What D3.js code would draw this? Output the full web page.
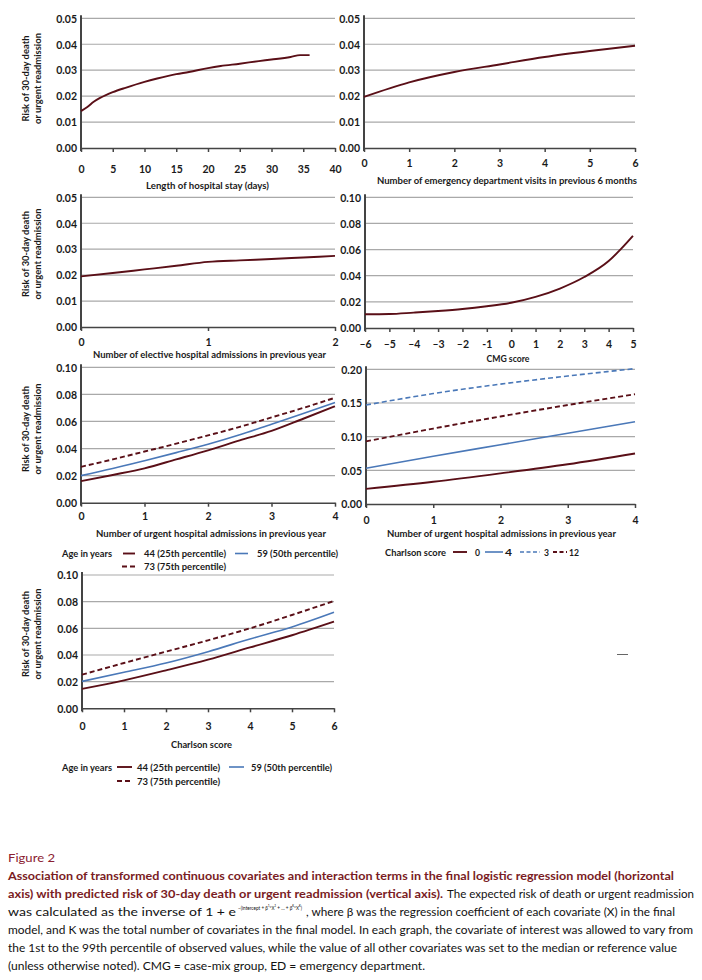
<!DOCTYPE html>
<html><head><meta charset="utf-8">
<script src="https://cdn.jsdelivr.net/npm/d3@7"></script>
<style>
body{margin:0;background:#fff}
svg{display:block}
text{font-family:Lato,"Open Sans",sans-serif}
</style>
</head><body>
<svg id="c" width="702" height="980"></svg>
<script>
// ---------- DATA ----------
const losDays = [0,1,2,3,4,5,7,10,12,15,17,20,22,25,28,30,33,34.5,36];
const losRisk = [0.0142,0.0158,0.0178,0.0193,0.0205,0.0215,0.0232,0.0255,0.0268,0.0285,0.0293,0.0308,0.0316,0.0325,0.0335,0.0341,0.0351,0.0358,0.0358];
const losTicks = [0,5,10,15,20,25,30,35,40];

const edVisits = [0,1,2,3,4,5,6];
const edRisk = [0.0197,0.0253,0.0293,0.0322,0.0351,0.0374,0.0394];
const edTicks = [0,1,2,3,4,5,6];

const electiveAdm = [0,0.25,0.5,0.75,1,1.25,1.5,1.75,2];
const electiveRisk = [0.0195,0.0208,0.0222,0.0236,0.0251,0.0257,0.0262,0.0268,0.0274];
const electiveTicks = [0,1,2];

const cmgScore = [-6,-5,-4,-3,-2,-1,0,1,2,3,4,4.5,5];
const cmgRisk = [0.0105,0.0107,0.0118,0.0130,0.0145,0.0166,0.0193,0.0238,0.0302,0.0390,0.0512,0.0603,0.0705];
const cmgTicks = [-6,-5,-4,-3,-2,-1,0,1,2,3,4,5];
const cmgTickLabels = ["\u20136","\u20135","\u20134","\u20133","\u20132","-1","0","1","2","3","4","5"];

const urgentAdm = [0,0.5,1,1.5,2,2.5,3,3.5,4];
const urgentAge44 = [0.0159,0.0205,0.0254,0.0320,0.0387,0.0460,0.0530,0.0620,0.0712];
const urgentAge59 = [0.0200,0.0252,0.0310,0.0370,0.0432,0.0502,0.0580,0.0658,0.0740];
const urgentAge73 = [0.0265,0.0320,0.0378,0.0436,0.0497,0.0560,0.0630,0.0700,0.0775];

const urgentAdmC = [0,1,2,3,4];
const urgentCharlson0 = [0.0225,0.0330,0.0455,0.0590,0.0750];
const urgentCharlson4 = [0.0530,0.0710,0.0880,0.1050,0.1220];
const urgentCharlson3 = [0.1470,0.1640,0.1780,0.1900,0.2010];
const urgentCharlson12 = [0.0930,0.1120,0.1300,0.1470,0.1630];
const urgentTicks = [0,1,2,3,4];

const charlsonScore = [0,1,2,3,4,5,6];
const charlsonAge44 = [0.0146,0.0210,0.0285,0.0365,0.0457,0.0548,0.0650];
const charlsonAge59 = [0.0202,0.0270,0.0340,0.0425,0.0520,0.0610,0.0720];
const charlsonAge73 = [0.0252,0.0340,0.0425,0.0510,0.0600,0.0700,0.0805];
const charlsonTicks = [0,1,2,3,4,5,6];

const yTicks05 = [0,0.01,0.02,0.03,0.04,0.05];
const yTicks10 = [0,0.02,0.04,0.06,0.08,0.10];
const yTicks20 = [0,0.05,0.10,0.15,0.20];

const yTitle = ["Risk of 30-day death","or urgent readmission"];
const ageLegend = ["Age in years","44 (25th percentile)","59 (50th percentile)","73 (75th percentile)"];
const charlsonLegend = ["Charlson score","0","4","3","12"];

// ---------- STYLE ----------
const RED = "#5a0f17", BLUE = "#4a78b8", GRID = "#a9a9a9", AXIS = "#444", TXT = "#1a1a1a";
const svg = d3.select("#c");

function panel(o){
  const x = d3.scaleLinear().domain(o.xDomain).range([o.left,o.right]);
  const y = d3.scaleLinear().domain(o.yDomain).range([o.bottom,o.top]);
  const g = svg.append("g");
  g.selectAll(".grid").data(o.yTicks.filter(d=>d>0)).join("line")
    .attr("x1",o.left).attr("x2",o.right).attr("y1",d=>y(d)).attr("y2",d=>y(d))
    .attr("stroke",GRID).attr("stroke-width",1.2);
  const xa = g.append("g").attr("transform",`translate(0,${o.bottom})`)
    .call(d3.axisBottom(x).tickValues(o.xTicks).tickSize(4).tickSizeOuter(0)
      .tickFormat((d,i)=>o.xLabels?o.xLabels[i]:d));
  xa.select(".domain").attr("stroke",AXIS).attr("stroke-width",1.6);
  xa.selectAll(".tick line").attr("stroke",AXIS).attr("stroke-width",1.5);
  xa.selectAll(".tick text").attr("y",o.xLabelDy).attr("dy",0).attr("fill",TXT)
    .style("font-size","10.5px").style("font-weight",700).style("font-family","Lato");
  const ya = g.append("g").attr("transform",`translate(${o.left},0)`)
    .call(d3.axisLeft(y).tickValues(o.yTicks).tickSize(0).tickSizeOuter(0).tickFormat(d3.format(".2f")));
  ya.select(".domain").remove();
  ya.selectAll(".tick text").attr("x",-4).attr("dy","0.36em").attr("fill",TXT)
    .style("font-size","10.5px").style("font-weight",700).style("font-family","Lato");
  g.append("line").attr("x1",o.left).attr("x2",o.left).attr("y1",o.top-3).attr("y2",o.bottom+3)
    .attr("stroke",AXIS).attr("stroke-width",2);
  g.append("text").attr("x",o.titleX).attr("y",o.titleY).attr("text-anchor","middle")
    .attr("textLength",o.titleW).attr("lengthAdjust","spacingAndGlyphs")
    .style("font-size","10px").style("font-weight",700).attr("fill",TXT).text(o.title);
  if(o.yTitleC){
    yTitle.forEach((t,i)=>{
      g.append("text").attr("transform",`translate(${i?37.5:25.5},${o.yTitleC}) rotate(-90)`)
        .attr("text-anchor","middle").attr("dy","0.35em")
        .attr("textLength",i?91:86).attr("lengthAdjust","spacingAndGlyphs")
        .style("font-size","10px").style("font-weight",700).attr("fill",TXT).text(t);
    });
  }
  const line = d3.line().x(d=>x(d[0])).y(d=>y(d[1])).curve(d3.curveMonotoneX);
  o.series.forEach(s=>{
    g.append("path").attr("d",line(s.xs.map((v,i)=>[v,s.ys[i]])))
      .attr("fill","none").attr("stroke",s.color).attr("stroke-width",s.w||1.9)
      .attr("stroke-dasharray",s.dash||null);
  });
  return g;
}

function legItem(x1,x2,y,color,dash,w){
  svg.append("line").attr("x1",x1).attr("x2",x2).attr("y1",y).attr("y2",y)
    .attr("stroke",color).attr("stroke-width",w).attr("stroke-dasharray",dash||null);
}
function legText(x,y,w,t){
  svg.append("text").attr("x",x).attr("y",y).attr("textLength",w).attr("lengthAdjust","spacingAndGlyphs")
    .style("font-size","10px").style("font-weight",700).attr("fill",TXT).text(t);
}

panel({left:81,right:335,top:18.3,bottom:148,xDomain:[0,40],yDomain:[0,0.05],xTicks:losTicks,yTicks:yTicks05,
  xLabelDy:25,title:"Length of hospital stay (days)",titleX:207.5,titleY:188.5,titleW:123,yTitleC:78.5,
  series:[{xs:losDays,ys:losRisk,color:RED}]});
panel({left:364,right:635,top:18.3,bottom:148,xDomain:[0,6],yDomain:[0,0.05],xTicks:edTicks,yTicks:yTicks05,
  xLabelDy:18.5,title:"Number of emergency department visits in previous 6 months",titleX:507,titleY:184,titleW:260,
  series:[{xs:edVisits,ys:edRisk,color:RED}]});
panel({left:81,right:335,top:197.3,bottom:327,xDomain:[0,2],yDomain:[0,0.05],xTicks:electiveTicks,yTicks:yTicks05,
  xLabelDy:18.5,title:"Number of elective hospital admissions in previous year",titleX:209.5,titleY:357.5,titleW:233,yTitleC:254,
  series:[{xs:electiveAdm,ys:electiveRisk,color:RED}]});
panel({left:365,right:633,top:197.3,bottom:328,xDomain:[-6,5],yDomain:[0,0.10],xTicks:cmgTicks,xLabels:cmgTickLabels,yTicks:yTicks10,
  xLabelDy:19.5,title:"CMG score",titleX:508,titleY:362,titleW:43,
  series:[{xs:cmgScore,ys:cmgRisk,color:RED}]});
panel({left:81,right:335,top:367.3,bottom:502.7,xDomain:[0,4],yDomain:[0,0.10],xTicks:urgentTicks,yTicks:yTicks10,
  xLabelDy:17.5,title:"Number of urgent hospital admissions in previous year",titleX:211,titleY:536.5,titleW:230,yTitleC:429,
  series:[{xs:urgentAdm,ys:urgentAge44,color:RED},
          {xs:urgentAdm,ys:urgentAge59,color:BLUE,w:1.6},
          {xs:urgentAdm,ys:urgentAge73,color:RED,dash:"5,3"}]});
panel({left:366,right:635,top:369.3,bottom:504,xDomain:[0,4],yDomain:[0,0.20],xTicks:urgentTicks,yTicks:yTicks20,
  xLabelDy:19.5,title:"Number of urgent hospital admissions in previous year",titleX:501.5,titleY:536.5,titleW:229,
  series:[{xs:urgentAdmC,ys:urgentCharlson0,color:RED},
          {xs:urgentAdmC,ys:urgentCharlson4,color:BLUE,w:1.6},
          {xs:urgentAdmC,ys:urgentCharlson3,color:BLUE,w:1.6,dash:"5,3"},
          {xs:urgentAdmC,ys:urgentCharlson12,color:RED,dash:"5,3"}]});
panel({left:82,right:334,top:575,bottom:708.3,xDomain:[0,6],yDomain:[0,0.10],xTicks:charlsonTicks,yTicks:yTicks10,
  xLabelDy:21.5,title:"Charlson score",titleX:201.5,titleY:748,titleW:61,yTitleC:634,
  series:[{xs:charlsonScore,ys:charlsonAge44,color:RED},
          {xs:charlsonScore,ys:charlsonAge59,color:BLUE,w:1.6},
          {xs:charlsonScore,ys:charlsonAge73,color:RED,dash:"5,3"}]});

// Legends
legText(62,557,50,ageLegend[0]);
legItem(123,135,553.5,RED,null,1.9); legText(144,557,82,ageLegend[1]);
legItem(235,248,553.5,BLUE,null,1.6); legText(257,557,81,ageLegend[2]);
legItem(122,135,566.5,RED,"5,3",1.9); legText(144,570,82,ageLegend[3]);
legText(62,770.5,50,ageLegend[0]);
legItem(117,132,767,RED,null,1.9); legText(137,770.5,83,ageLegend[1]);
legItem(229,244,767,BLUE,null,1.6); legText(251,770.5,81,ageLegend[2]);
legItem(117,131,781,RED,"5,3",1.9); legText(137,784.5,83,ageLegend[3]);
legText(385,555.5,61,charlsonLegend[0]);
legItem(453,467,552,RED,null,1.9); legText(475,555.5,5,charlsonLegend[1]);
legItem(485,503,552,BLUE,null,1.6); legText(505,555.5,7,charlsonLegend[2]);
legItem(520,540,552,BLUE,"4,2.5",1.6); legText(544,555.5,5,charlsonLegend[3]);
legItem(553,567,552,RED,"4,2.5",1.9); legText(569,555.5,10,charlsonLegend[4]);

svg.append("line").attr("x1",617).attr("x2",628).attr("y1",654.5).attr("y2",654.5).attr("stroke","#666").attr("stroke-width",1);

// ---------- CAPTION ----------
const CAP_RED = "#7a1c24";
function cap(x,y,w,t,opt={}){
  return svg.append("text").attr("x",x).attr("y",y).attr("textLength",w).attr("lengthAdjust","spacingAndGlyphs")
    .style("font-size",(opt.size||11.6)+"px").style("font-weight",opt.bold?700:400)
    .attr("fill",opt.color||"#111").text(t);
}
cap(8,861.5,47,"Figure 2",{color:"#8b2030",size:12});
cap(8,879.5,666,"Association of transformed continuous covariates and interaction terms in the final logistic regression model (horizontal",{bold:true,color:CAP_RED});
cap(8,897.5,435,"axis) with predicted risk of 30-day death or urgent readmission (vertical axis).",{bold:true,color:CAP_RED});
cap(447,897.5,247,"The expected risk of death or urgent readmission");
// line with superscript as one text element
const l3 = svg.append("text").attr("y",915.5).style("font-size","11.6px").attr("fill","#111");
l3.append("tspan").attr("x",8).attr("textLength",228).attr("lengthAdjust","spacingAndGlyphs")
  .text("was calculated as the inverse of 1 + e");
l3.append("tspan").attr("x",238).attr("y",909.5).style("font-size","6.5px").attr("textLength",64).attr("lengthAdjust","spacingAndGlyphs")
  .text("\u2212(intercept + \u03b2\u00b9*X\u00b9 + \u2026 + \u03b2\u1d37*X\u1d37)");
l3.append("tspan").attr("x",306).attr("y",915.5).attr("textLength",369).attr("lengthAdjust","spacingAndGlyphs")
  .text(", where \u03b2 was the regression coefficient of each covariate (X) in the final");
cap(8,933.5,685,"model, and K was the total number of covariates in the final model. In each graph, the covariate of interest was allowed to vary from");
cap(8,951.5,669,"the 1st to the 99th percentile of observed values, while the value of all other covariates was set to the median or reference value");
cap(8,969.5,417,"(unless otherwise noted). CMG = case-mix group, ED = emergency department.");
</script>
</body></html>
